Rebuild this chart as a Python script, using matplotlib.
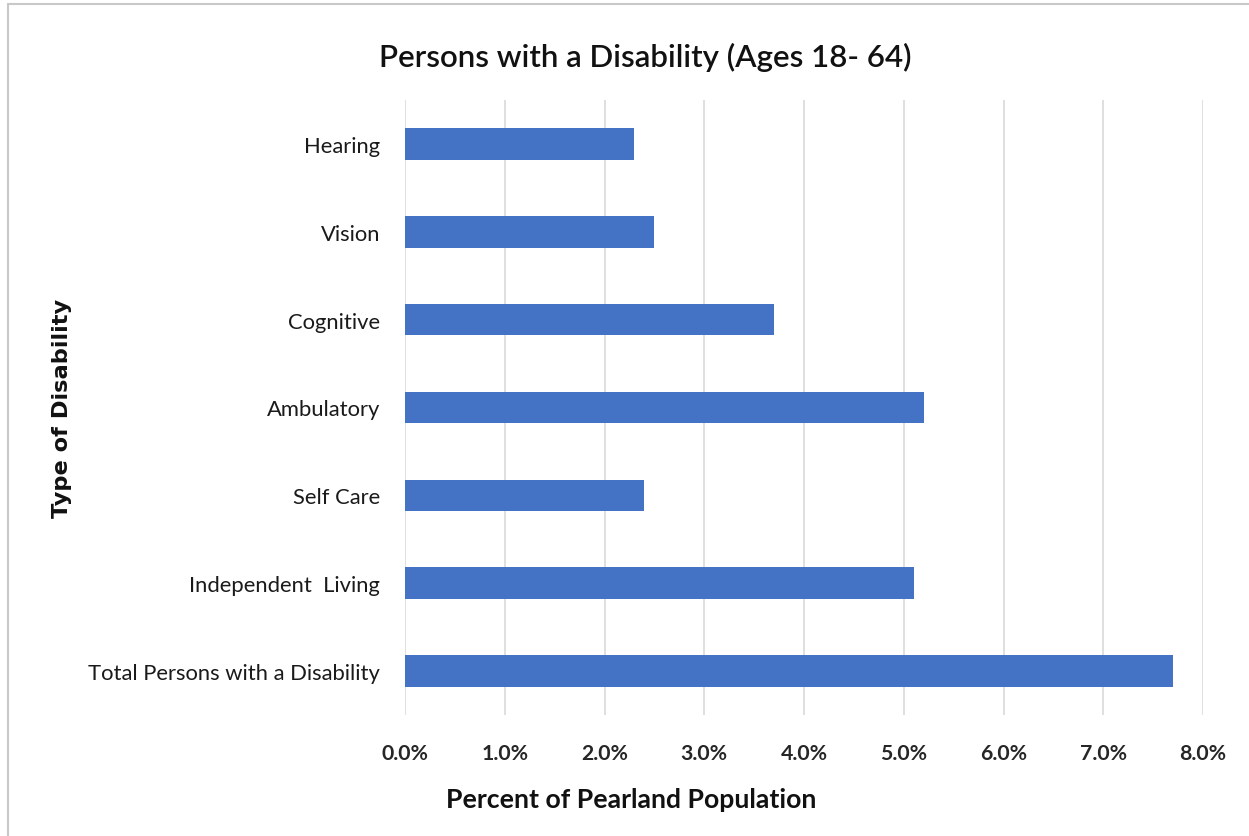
import matplotlib
matplotlib.use("Agg")
import matplotlib.pyplot as plt
from matplotlib.ticker import FuncFormatter, MultipleLocator
from matplotlib.patches import Rectangle

categories = ["Hearing", "Vision", "Cognitive", "Ambulatory", "Self Care",
              "Independent  Living", "Total Persons with a Disability"]
percent = [2.3, 2.5, 3.7, 5.2, 2.4, 5.1, 7.7]

title = "Persons with a Disability (Ages 18- 64)"
xlabel = "Percent of Pearland Population"
ylabel = "Type of Disability"

W, H = 1249, 837
fig = plt.figure(figsize=(W / 100, H / 100), dpi=100)
fig.patch.set_facecolor("white")

# light frame around the chart area
fig.add_artist(Rectangle((8 / W, -0.01), 1.1, 1 - 5 / H + 0.01, transform=fig.transFigure,
                         fill=False, edgecolor="#c8c8c8", linewidth=1.5))

ax = fig.add_axes([405 / W, 1 - 716 / H, (1203 - 405) / W, (716 - 101) / H])

y = list(range(len(categories)))
ax.barh(y, percent, height=0.36, color="#4472C4", zorder=3)
ax.set_ylim(len(categories) - 0.5, -0.5)
ax.set_xlim(0, 8)
ax.xaxis.set_major_locator(MultipleLocator(1))
ax.xaxis.set_major_formatter(FuncFormatter(lambda v, p: f"{v:.1f}%"))
ax.grid(axis="x", color="#d9d9d9", linewidth=1.2, zorder=0)
for s in ax.spines.values():
    s.set_visible(False)
ax.set_yticks(y)
ax.set_yticklabels(categories, fontsize=15.8, family="Lato", color="#1a1a1a")
ax.tick_params(axis="y", length=0, pad=18)
ax.tick_params(axis="x", length=0, pad=20)
for lbl in ax.get_xticklabels():
    lbl.set_fontsize(15.3)
    lbl.set_family("Lato")
    lbl.set_fontweight("bold")
    lbl.set_color("#262626")

fig.text(645 / W, 1 - 57 / H, title, ha="center", va="center",
         fontsize=22.5, family="Lato", fontweight="semibold", color="#111111")
fig.text(631 / W, 1 - 800 / H, xlabel, ha="center", va="center",
         fontsize=19.2, family="Lato", fontweight="bold", color="#111111")
fig.text(62 / W, 1 - 408 / H, ylabel, ha="center", va="center", rotation=90,
         fontsize=16.2, family="DejaVu Sans", fontweight="bold", color="#111111")

fig.savefig("out.png", dpi=100, facecolor="white")
